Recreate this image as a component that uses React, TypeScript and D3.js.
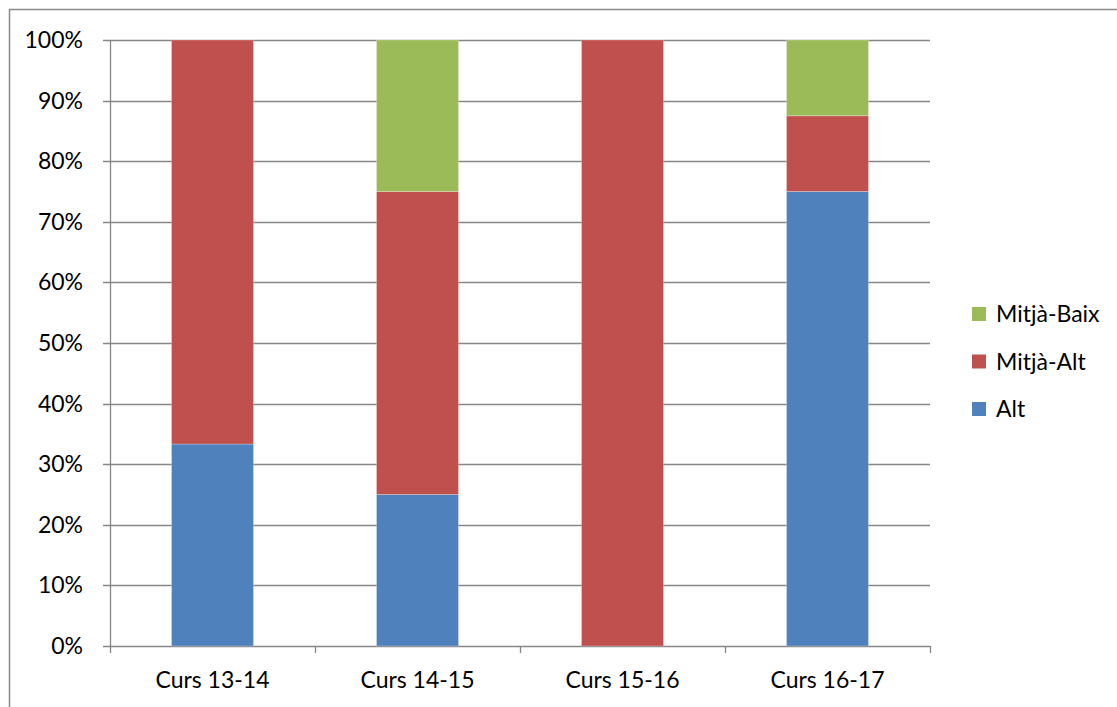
import { useEffect } from 'react'
import * as d3 from 'd3'

const categories = ['Curs 13-14', 'Curs 14-15', 'Curs 15-16', 'Curs 16-17']
const seriesNames = ['Alt', 'Mitjà-Alt', 'Mitjà-Baix']
const alt = [33.33, 25, 0, 75]
const mitjaAlt = [66.67, 50, 100, 12.5]
const mitjaBaix = [0, 25, 0, 12.5]
const colors = ['#4F81BD', '#C0504D', '#9BBB59']
const yTicks = [0, 10, 20, 30, 40, 50, 60, 70, 80, 90, 100]

const W = 1117
const H = 707
const FONT = 'Lato, "Open Sans", sans-serif'
const FS = 23

export default function App() {
  useEffect(() => {
    document.body.style.margin = '0'
  }, [])

  const plot = { left: 110, right: 930, top: 40, bottom: 646 }

  const x = d3.scaleBand<string>()
    .domain(categories)
    .range([plot.left, plot.right])
    .paddingInner(0.6)
    .paddingOuter(0.3)

  const y = d3.scaleLinear().domain([0, 100]).range([plot.bottom, plot.top])

  const rows = categories.map((c, i) => ({
    cat: c,
    Alt: alt[i],
    'Mitjà-Alt': mitjaAlt[i],
    'Mitjà-Baix': mitjaBaix[i],
  }))
  const stack = d3.stack<any>().keys(seriesNames)(rows)

  const catEdges = d3.range(categories.length + 1).map(i =>
    plot.left + (i * (plot.right - plot.left)) / categories.length)

  const legendOrder = [2, 1, 0]

  return (
    <svg width={W} height={H} style={{ display: 'block', fontFamily: FONT }}>
      <rect x={0} y={0} width={W} height={H} fill="#fff" />
      <rect x={9.5} y={9.5} width={W + 20} height={H + 20} fill="none" stroke="#898989" strokeWidth={1.5} />

      {yTicks.map(t => (
        <g key={t}>
          <line x1={plot.left - 7} x2={plot.right} y1={Math.round(y(t)) + 0.5} y2={Math.round(y(t)) + 0.5}
            stroke="#878787" strokeWidth={1.3} />
          <text x={83} y={y(t)} dy="0.35em" textAnchor="end" fontSize={FS} fill="#000">{t}%</text>
        </g>
      ))}

      <line x1={plot.left + 0.5} x2={plot.left + 0.5} y1={plot.top} y2={plot.bottom} stroke="#878787" strokeWidth={1.3} />
      {catEdges.map((e, i) => (
        <line key={i} x1={Math.round(e) + 0.5} x2={Math.round(e) + 0.5} y1={plot.bottom} y2={plot.bottom + 7}
          stroke="#878787" strokeWidth={1.3} />
      ))}

      {stack.map((s, si) => (
        <g key={s.key}>
          {s.map((d, i) => (
            d[1] - d[0] > 0 ? (
              <rect key={i}
                x={x(categories[i])!}
                y={y(d[1])}
                width={x.bandwidth()}
                height={y(d[0]) - y(d[1])}
                fill={colors[si]}
                stroke="rgba(255,255,255,0.25)"
                strokeWidth={1}
              />
            ) : null
          ))}
        </g>
      ))}

      {categories.map(c => (
        <text key={c} x={x(c)! + x.bandwidth() / 2} y={688} textAnchor="middle" fontSize={FS} fill="#000">{c}</text>
      ))}

      {legendOrder.map((si, k) => {
        const cy = 314 + k * 47.5
        return (
          <g key={si}>
            <rect x={972} y={cy - 7} width={14} height={14} fill={colors[si]} />
            <text x={996} y={cy} dy="0.35em" fontSize={FS} fill="#000">{seriesNames[si]}</text>
          </g>
        )
      })}
    </svg>
  )
}
